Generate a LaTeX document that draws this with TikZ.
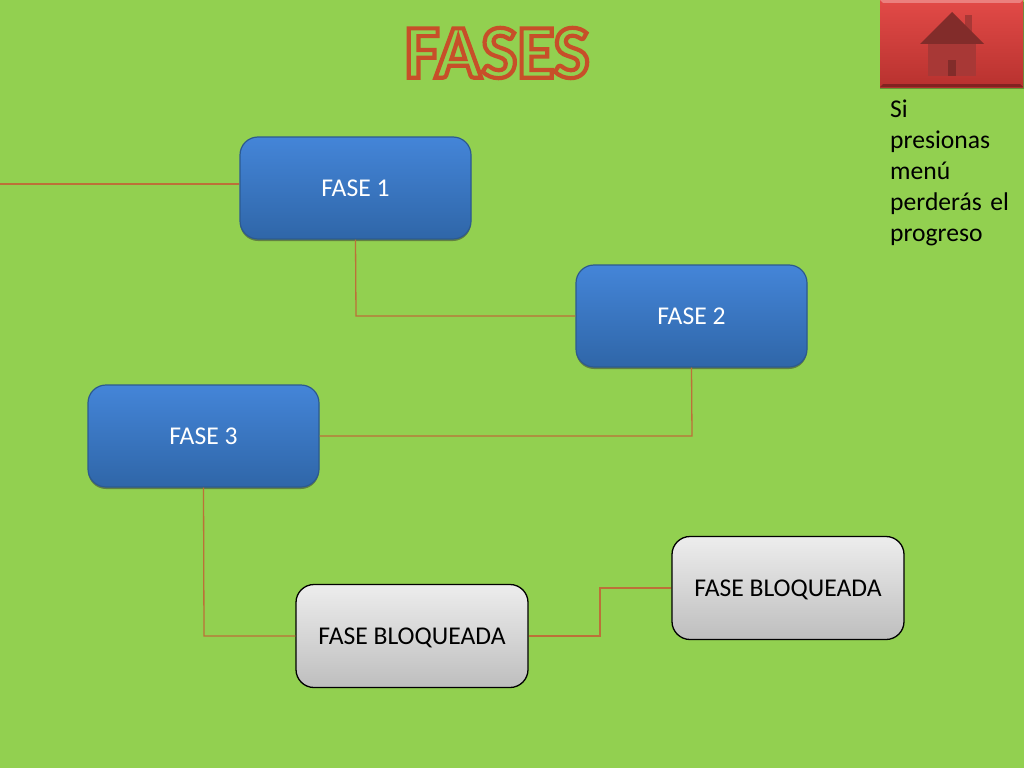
\documentclass[tikz,border=0pt]{standalone}
\usepackage{fontspec}
\setmainfont{Carlito}
\usetikzlibrary{shadows,calc}
\definecolor{bg}{HTML}{92D050}
\definecolor{conn}{HTML}{BC7038}
\definecolor{bluetop}{HTML}{4485D8}
\definecolor{bluebot}{HTML}{2F66A8}
\definecolor{bluedge}{HTML}{2C5A90}
\definecolor{greytop}{HTML}{EDEDED}
\definecolor{greybot}{HTML}{BEBEBE}
\definecolor{redtop}{HTML}{E24A47}
\definecolor{redbot}{HTML}{B8322F}
\definecolor{roof}{HTML}{822C2A}
\definecolor{wall}{HTML}{A83836}
\definecolor{titlered}{HTML}{C8502A}
\tikzset{
  x=1pt,y=-1pt,
  phase/.style={rounded corners=18pt,minimum width=231pt,minimum height=102pt,inner sep=0pt,font=\fontsize{25.6}{30}\selectfont,align=center},
  bluephase/.style={phase,draw=bluedge,line width=1.2pt,top color=bluetop,bottom color=bluebot,text=white,
    drop shadow={shadow xshift=0pt,shadow yshift=-2pt,opacity=.5,fill=black!80}},
  greyphase/.style={phase,draw=black,line width=1.3pt,top color=greytop,bottom color=greybot,text=black,minimum width=232pt,minimum height=103pt},
  link/.style={draw=conn,line width=1.3pt},
}
\newcommand{\lowered}[1]{\raisebox{0pt}[\dimexpr\height+4pt\relax]{#1}}
\begin{document}
\begin{tikzpicture}
\useasboundingbox (0,0) rectangle (1024,768);
\fill[bg] (0,0) rectangle (1024,768);
\coordinate (edge) at (0,184);
\coordinate (c1) at (356,316);
\coordinate (c2) at (692,436);
\coordinate (c3) at (204,636);
\coordinate (c4) at (600,636);
\coordinate (c5) at (600,588);
\node[bluephase] (f1) at (355.5,188) {FASE 1};
\node[bluephase] (f2) at (691.5,316) {FASE 2};
\node[bluephase] (f3) at (203.5,436) {FASE 3};
\node[greyphase] (b1) at (412,636) {\lowered{FASE BLOQUEADA}};
\node[greyphase] (b2) at (788,588) {\lowered{FASE BLOQUEADA}};
\draw[link] (edge) -- (edge -| f1.west);
\draw[link] (f1.south) -- (c1) -- (f2.west);
\draw[link] (f2.south) -- (c2) -- (f3.east);
\draw[link] (f3.south) -- (c3) -- (b1.west);
\draw[link] (b1.east) -- (c4) -- (c5) -- (b2.west);
% title
\node[inner sep=0pt,text=titlered,font=\fontsize{76}{76}\selectfont\bfseries] (title) at (497,53)
  {\special{pdf:code 1 Tr 4.2 w 0.78 0.31 0.16 RG}FASES\special{pdf:code 0 Tr}};
% home button
\fill[black,opacity=.3] (880,2) rectangle (1024,89);
\shade[top color=redtop,bottom color=redbot] (880,0) rectangle (1023,87);
\fill[redtop!70!white] (880,0) -- (1023,0) -- (1020,3) -- (883,3) -- cycle;
\fill[redbot!70!black] (880,87) -- (1023,87) -- (1020,84) -- (883,84) -- cycle;
\fill[wall] (965,15) rectangle (972,32);
\fill[wall] (928,44) rectangle (976,76);
\fill[roof] (952,12) -- (984,44) -- (920,44) -- cycle;
\fill[roof] (948,60) rectangle (956,76);
\node[anchor=north west,inner sep=0pt,text width=130pt,font=\fontsize{25.6}{30.9}\selectfont] (note) at (890,100)
  {\raggedright Si\\presionas\\menú\\perderás el\\progreso\par};
\end{tikzpicture}
\end{document}
